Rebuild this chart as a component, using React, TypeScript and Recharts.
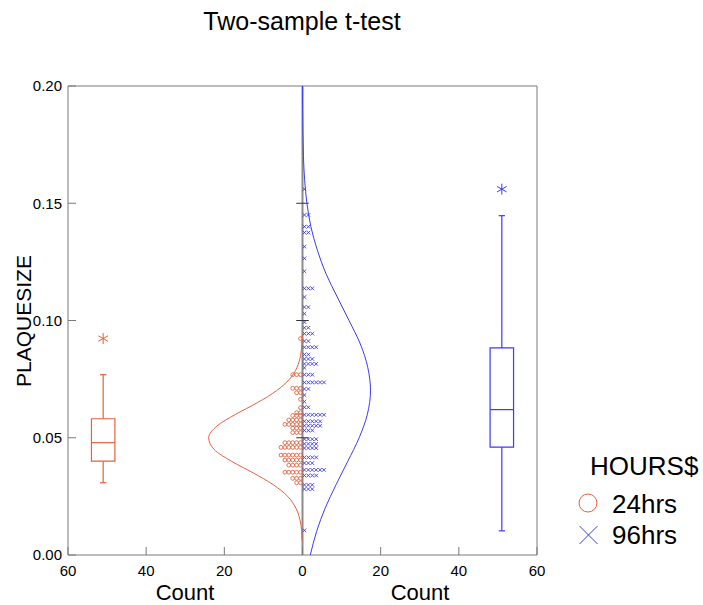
import { ScatterChart, Scatter, XAxis, YAxis, ReferenceLine, ReferenceArea } from "recharts";

const RED = "#e8603c";
const BLUE = "#3b3bf2";
const AXIS = "#7a7a7a";
const FONT = "'Liberation Sans', Arial, sans-serif";

// axis ticks
const xTicks = [-60, -40, -20, 0, 20, 40, 60];
const yTicks = [0, 0.05, 0.1, 0.15, 0.2];
const centerTicks = [0.05, 0.1, 0.15];

// 24hrs: stacked dot levels (PLAQUESIZE) and how many dots at each level
const hrs24Levels = [0.0308, 0.0327, 0.0353, 0.0383, 0.0405, 0.0426, 0.0459, 0.0479, 0.0522, 0.0541,
  0.0557, 0.0576, 0.0595, 0.0607, 0.0628, 0.0664, 0.0692, 0.0711, 0.0769, 0.0923];
const hrs24Counts = [2, 3, 5, 4, 5, 6, 6, 5, 3, 3, 5, 4, 3, 2, 1, 1, 2, 3, 3, 1];

// 96hrs
const hrs96Levels = [0.0105, 0.0281, 0.0299, 0.0339, 0.0363, 0.0392, 0.0416, 0.0456, 0.0474, 0.0494,
  0.0531, 0.0551, 0.057, 0.0598, 0.063, 0.0654, 0.0682, 0.0708, 0.0736, 0.0769,
  0.0798, 0.0815, 0.0836, 0.0855, 0.0886, 0.0912, 0.0944, 0.0969, 0.0993, 0.1029,
  0.1057, 0.11, 0.1137, 0.121, 0.1265, 0.1315, 0.1375, 0.14, 0.145, 0.156];
const hrs96Counts = [1, 3, 3, 4, 6, 3, 4, 4, 4, 4, 3, 5, 5, 6, 2, 1, 1, 2, 6, 3,
  1, 4, 3, 2, 4, 2, 3, 2, 1, 1, 2, 1, 3, 1, 1, 1, 2, 2, 2, 1];

// fitted normal curves (count at each PLAQUESIZE)
const redCurveY = [0.006, 0.01, 0.015, 0.02, 0.025, 0.03, 0.035, 0.04, 0.045, 0.05,
  0.055, 0.06, 0.065, 0.07, 0.075, 0.08, 0.085, 0.09, 0.094];
const redCurveCount = [0.07, 0.21, 0.64, 1.7, 3.8, 7.5, 12.6, 18.2, 22.6, 24.0,
  21.9, 17.1, 11.5, 6.7, 3.3, 1.4, 0.5, 0.16, 0.06];
const blueCurveY = [0, 0.01, 0.02, 0.03, 0.04, 0.05, 0.06, 0.07, 0.08, 0.09, 0.1,
  0.11, 0.12, 0.13, 0.14, 0.15, 0.16, 0.17, 0.18, 0.19, 0.2];
const blueCurveCount = [2.0, 3.6, 5.8, 8.6, 11.6, 14.5, 16.6, 17.4, 16.7, 14.8, 11.9,
  8.9, 6.0, 3.8, 2.15, 1.13, 0.54, 0.24, 0.1, 0.04, 0.01];

// box plots: [24hrs, 96hrs]
const boxPos = [-51, 51];
const whiskerLow = [0.0308, 0.0103];
const q1 = [0.04, 0.046];
const median = [0.0479, 0.062];
const q3 = [0.0581, 0.0883];
const whiskerHigh = [0.0769, 0.1447];
const outlier = [0.0923, 0.156];
const boxColors = [RED, BLUE];

const stack = (levels: number[], counts: number[], side: number) =>
  levels.flatMap((y, k) => Array.from({ length: counts[k] }, (_, i) => ({ x: side * (i + 0.5), y })));

const redDots = stack(hrs24Levels, hrs24Counts, -1);
const blueDots = stack(hrs96Levels, hrs96Counts, 1);
const redCurve = redCurveY.map((y, i) => ({ x: -redCurveCount[i], y }));
const blueCurve = blueCurveY.map((y, i) => ({ x: blueCurveCount[i], y }));
const outlierPts = boxPos.map((x, i) => ({ x, y: outlier[i], c: boxColors[i] }));

const NoDot = () => <g />;
const Circle = (p: any) => <circle cx={p.cx} cy={p.cy} r={1.9} fill="none" stroke={RED} strokeWidth={0.9} />;
const Cross = (p: any) => {
  const s = 1.8;
  return (
    <path d={`M${p.cx - s},${p.cy - s}L${p.cx + s},${p.cy + s}M${p.cx + s},${p.cy - s}L${p.cx - s},${p.cy + s}`}
      stroke={BLUE} strokeWidth={0.9} fill="none" />
  );
};
const Star = (p: any) => {
  const c = p.payload?.c ?? RED;
  const r = 5.5;
  const dx = r * 0.87, dy = r * 0.5;
  return (
    <path d={`M${p.cx},${p.cy - r}L${p.cx},${p.cy + r}M${p.cx - dx},${p.cy - dy}L${p.cx + dx},${p.cy + dy}M${p.cx - dx},${p.cy + dy}L${p.cx + dx},${p.cy - dy}`}
      stroke={c} strokeWidth={1} fill="none" />
  );
};

const tickStyle = { fill: "#000", fontSize: 15, fontFamily: FONT };

export default function App() {
  return (
    <div style={{ position: "absolute", left: 0, top: 0, width: 703, height: 605, background: "#fff" }}>
      <ScatterChart width={703} height={605} margin={{ top: 85, right: 165, bottom: 0, left: 8 }}>
        <XAxis type="number" dataKey="x" domain={[-60, 60]} ticks={xTicks} interval={0} allowDataOverflow
          tickFormatter={(v: number) => String(Math.abs(v))} tick={tickStyle} tickSize={-8} tickMargin={18}
          axisLine={{ stroke: AXIS }} tickLine={{ stroke: AXIS }} height={50} />
        <XAxis xAxisId="top" orientation="top" type="number" domain={[-60, 60]} ticks={xTicks} interval={0}
          allowDataOverflow tick={false} tickSize={-8} axisLine={{ stroke: AXIS }} tickLine={{ stroke: AXIS }} height={1} />
        <YAxis type="number" dataKey="y" domain={[0, 0.2]} ticks={yTicks} interval={0} allowDataOverflow
          tickFormatter={(v: number) => v.toFixed(2)} tick={tickStyle} tickSize={-8} tickMargin={14}
          axisLine={{ stroke: AXIS }} tickLine={{ stroke: AXIS }} width={60} />
        <YAxis yAxisId="right" orientation="right" type="number" domain={[0, 0.2]} ticks={yTicks} interval={0}
          allowDataOverflow tick={false} tickSize={-8} axisLine={{ stroke: AXIS }} tickLine={{ stroke: AXIS }} width={1} />

        <ReferenceLine x={0} stroke="#8c8c8c" strokeWidth={2} />
        {centerTicks.map((y) => (
          <ReferenceLine key={y} segment={[{ x: -1.6, y }, { x: 1.6, y }]} stroke="#333" strokeWidth={1} />
        ))}

        {boxPos.map((x, i) => (
          <ReferenceArea key={"b" + i} x1={x - 3} x2={x + 3} y1={q1[i]} y2={q3[i]}
            fill="none" fillOpacity={0} stroke={boxColors[i]} strokeWidth={1.2} />
        ))}
        {boxPos.map((x, i) => (
          <ReferenceLine key={"m" + i} segment={[{ x: x - 3, y: median[i] }, { x: x + 3, y: median[i] }]}
            stroke={boxColors[i]} strokeWidth={1.2} />
        ))}
        {boxPos.map((x, i) => (
          <ReferenceLine key={"wl" + i} segment={[{ x, y: whiskerLow[i] }, { x, y: q1[i] }]}
            stroke={boxColors[i]} strokeWidth={1.2} />
        ))}
        {boxPos.map((x, i) => (
          <ReferenceLine key={"wh" + i} segment={[{ x, y: q3[i] }, { x, y: whiskerHigh[i] }]}
            stroke={boxColors[i]} strokeWidth={1.2} />
        ))}
        {boxPos.map((x, i) => (
          <ReferenceLine key={"cl" + i} segment={[{ x: x - 0.8, y: whiskerLow[i] }, { x: x + 0.8, y: whiskerLow[i] }]}
            stroke={boxColors[i]} strokeWidth={1.2} />
        ))}
        {boxPos.map((x, i) => (
          <ReferenceLine key={"ch" + i} segment={[{ x: x - 0.8, y: whiskerHigh[i] }, { x: x + 0.8, y: whiskerHigh[i] }]}
            stroke={boxColors[i]} strokeWidth={1.2} />
        ))}

        <Scatter data={redDots} shape={Circle} isAnimationActive={false} />
        <Scatter data={blueDots} shape={Cross} isAnimationActive={false} />
        <Scatter data={outlierPts} shape={Star} isAnimationActive={false} />
        <Scatter data={redCurve} shape={NoDot} line={{ stroke: RED, strokeWidth: 1 }} lineJointType="monotoneY"
          isAnimationActive={false} />
        <Scatter data={blueCurve} shape={NoDot} line={{ stroke: BLUE, strokeWidth: 1 }} lineJointType="monotoneY"
          isAnimationActive={false} />
      </ScatterChart>

      <svg width={703} height={605} style={{ position: "absolute", left: 0, top: 0, pointerEvents: "none" }}
        fontFamily={FONT}>
        <text x={302} y={30} fontSize={25} textAnchor="middle" fill="#000">Two-sample t-test</text>
        <text x={185} y={600} fontSize={22} textAnchor="middle" fill="#000">Count</text>
        <text x={420} y={600} fontSize={22} textAnchor="middle" fill="#000">Count</text>
        <text x={31} y={321} fontSize={21} textAnchor="middle" fill="#000" transform="rotate(-90 31 321)">PLAQUESIZE</text>
        <text x={590} y={475} fontSize={26} fill="#000">HOURS$</text>
        <circle cx={588} cy={503} r={9} fill="none" stroke={RED} strokeWidth={1} />
        <text x={612} y={513} fontSize={26} fill="#000">24hrs</text>
        <path d="M579.5,526L597.5,544M597.5,526L579.5,544" stroke={BLUE} strokeWidth={1} />
        <text x={612} y={544} fontSize={26} fill="#000">96hrs</text>
      </svg>
    </div>
  );
}
